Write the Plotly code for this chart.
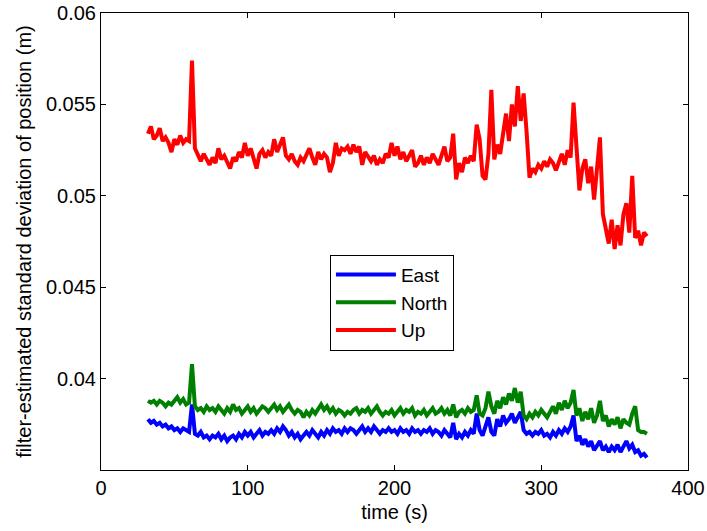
import plotly.graph_objects as go

# time samples (s)
time_s = list(range(32, 373, 2))

east = [
    0.0378, 0.0376, 0.0377, 0.0375, 0.0376, 0.0374, 0.0375, 0.0373, 0.0374, 0.0372,
    0.0373, 0.0371, 0.0373, 0.0372, 0.0371, 0.0386, 0.0370, 0.0369, 0.0371, 0.0368,
    0.0369, 0.0367, 0.0369, 0.0368, 0.0370, 0.0367, 0.0369, 0.0366, 0.0368, 0.0369,
    0.0367, 0.0370, 0.0368, 0.0371, 0.0369, 0.0371, 0.0368, 0.0370, 0.0372, 0.0369,
    0.0371, 0.0370, 0.0372, 0.0370, 0.0373, 0.0371, 0.0374, 0.0372, 0.0369, 0.0371,
    0.0368, 0.0370, 0.0367, 0.0369, 0.0371, 0.0369, 0.0372, 0.0370, 0.0368, 0.0371,
    0.0369, 0.0372, 0.0370, 0.0373, 0.0371, 0.0372, 0.0370, 0.0373, 0.0371, 0.0373,
    0.0372, 0.0370, 0.0372, 0.0374, 0.0371, 0.0373, 0.0371, 0.0374, 0.0372, 0.0370,
    0.0372, 0.0371, 0.0373, 0.0371, 0.0372, 0.0370, 0.0373, 0.0371, 0.0372, 0.0370,
    0.0373, 0.0371, 0.0372, 0.0370, 0.0372, 0.0371, 0.0373, 0.0370, 0.0372, 0.0371,
    0.0369, 0.0372, 0.0370, 0.0368, 0.0376, 0.0367, 0.0370, 0.0368, 0.0371, 0.0369,
    0.0372, 0.0370, 0.0381, 0.0372, 0.0369, 0.0374, 0.0379, 0.0371, 0.0369, 0.0378,
    0.0374, 0.0380, 0.0376, 0.0378, 0.0381, 0.0376, 0.0379, 0.0382, 0.0372, 0.0370,
    0.0371, 0.0369, 0.0371, 0.0370, 0.0372, 0.0369, 0.0370, 0.0368, 0.0371, 0.0369,
    0.0372, 0.0370, 0.0373, 0.0371, 0.0374, 0.0380, 0.0366, 0.0369, 0.0364, 0.0367,
    0.0363, 0.0366, 0.0361, 0.0364, 0.0366, 0.0361, 0.0363, 0.0360, 0.0363, 0.0361,
    0.0364, 0.0360, 0.0363, 0.0366, 0.0362, 0.0364, 0.0360, 0.0361, 0.0358, 0.0359,
    0.0357,
]

north = [
    0.0388, 0.0387, 0.0388, 0.0386, 0.0388, 0.0387, 0.0385, 0.0387, 0.0386, 0.0388,
    0.0390, 0.0387, 0.0389, 0.0386, 0.0387, 0.0408, 0.0385, 0.0383, 0.0384, 0.0382,
    0.0385, 0.0383, 0.0384, 0.0382, 0.0385, 0.0383, 0.0381, 0.0384, 0.0382, 0.0386,
    0.0383, 0.0384, 0.0381, 0.0383, 0.0385, 0.0382, 0.0384, 0.0381, 0.0383, 0.0385,
    0.0384, 0.0382, 0.0384, 0.0386, 0.0383, 0.0385, 0.0382, 0.0384, 0.0386, 0.0383,
    0.0381, 0.0383, 0.0382, 0.0379, 0.0382, 0.0380, 0.0383, 0.0381, 0.0384, 0.0386,
    0.0383, 0.0385, 0.0382, 0.0384, 0.0381, 0.0383, 0.0382, 0.0380, 0.0382, 0.0381,
    0.0383, 0.0384, 0.0381, 0.0383, 0.0382, 0.0384, 0.0381, 0.0383, 0.0385, 0.0382,
    0.0380, 0.0382, 0.0381, 0.0383, 0.0380, 0.0382, 0.0384, 0.0381, 0.0383, 0.0382,
    0.0384, 0.0380, 0.0382, 0.0381, 0.0383, 0.0380, 0.0382, 0.0384, 0.0381, 0.0382,
    0.0384, 0.0381, 0.0383, 0.0380, 0.0386, 0.0379, 0.0382, 0.0383, 0.0381, 0.0384,
    0.0382, 0.0383, 0.0391, 0.0381, 0.0380, 0.0384, 0.0393, 0.0385, 0.0381, 0.0388,
    0.0384, 0.0390, 0.0386, 0.0392, 0.0388, 0.0395, 0.0387, 0.0393, 0.0380, 0.0378,
    0.0381, 0.0379, 0.0382, 0.0380, 0.0383, 0.0381, 0.0379, 0.0382, 0.0385, 0.0381,
    0.0387, 0.0383, 0.0388, 0.0384, 0.0387, 0.0394, 0.0380, 0.0384, 0.0377, 0.0382,
    0.0378, 0.0384, 0.0376, 0.0380, 0.0388, 0.0377, 0.0380, 0.0374, 0.0378, 0.0375,
    0.0379, 0.0373, 0.0378, 0.0376, 0.0375, 0.0381, 0.0385, 0.0372, 0.0371, 0.0371,
    0.0370,
]

up = [
    0.0534, 0.0538, 0.0531, 0.0533, 0.0537, 0.0530, 0.0532, 0.0529, 0.0524, 0.0531,
    0.0528, 0.0533, 0.0529, 0.0531, 0.0530, 0.0574, 0.0526, 0.0522, 0.0519, 0.0523,
    0.0520, 0.0517, 0.0521, 0.0518, 0.0526, 0.0520, 0.0522, 0.0518, 0.0515, 0.0521,
    0.0519, 0.0524, 0.0521, 0.0529, 0.0522, 0.0526, 0.0520, 0.0515, 0.0523, 0.0525,
    0.0521, 0.0524, 0.0522, 0.0531, 0.0524, 0.0528, 0.0532, 0.0522, 0.0520, 0.0523,
    0.0519, 0.0517, 0.0521, 0.0519, 0.0522, 0.0526, 0.0521, 0.0517, 0.0524, 0.0520,
    0.0523, 0.0521, 0.0513, 0.0518, 0.0529, 0.0522, 0.0526, 0.0525, 0.0527, 0.0523,
    0.0528, 0.0524, 0.0527, 0.0517, 0.0524, 0.0521, 0.0519, 0.0522, 0.0517, 0.0520,
    0.0518, 0.0523, 0.0521, 0.0529, 0.0522, 0.0527, 0.0520, 0.0524, 0.0519, 0.0522,
    0.0525, 0.0516, 0.0518, 0.0522, 0.0517, 0.0521, 0.0518, 0.0523, 0.0520, 0.0517,
    0.0522, 0.0527, 0.0519, 0.0521, 0.0534, 0.0509, 0.0518, 0.0513, 0.0521, 0.0518,
    0.0522, 0.0519, 0.0539, 0.0531, 0.0511, 0.0509, 0.0523, 0.0558, 0.0520, 0.0528,
    0.0523, 0.0533, 0.0545, 0.0530, 0.0550, 0.0538, 0.0560, 0.0541, 0.0556, 0.0535,
    0.0510, 0.0515, 0.0513, 0.0517, 0.0515, 0.0519, 0.0516, 0.0520, 0.0518, 0.0514,
    0.0519, 0.0523, 0.0517, 0.0525, 0.0521, 0.0551, 0.0527, 0.0503, 0.0515, 0.0520,
    0.0507, 0.0516, 0.0498, 0.0514, 0.0532, 0.0490, 0.0482, 0.0474, 0.0487, 0.0471,
    0.0484, 0.0473, 0.0490, 0.0496, 0.0480, 0.0511, 0.0477, 0.0481, 0.0473, 0.0480,
    0.0478,
]

series_names = ["East", "North", "Up"]
series_colors = ["#0000FF", "#008000", "#FF0000"]

x_ticks = [0, 100, 200, 300, 400]
y_ticks = [0.04, 0.045, 0.05, 0.055, 0.06]
y_tick_labels = ["0.04", "0.045", "0.05", "0.055", "0.06"]

FONT = "Liberation Sans, Arial, Helvetica, sans-serif"

fig = go.Figure()
for name, color, vals in zip(series_names, series_colors, [east, north, up]):
    fig.add_trace(go.Scatter(x=time_s, y=vals, mode="lines", name=name,
                             line=dict(color=color, width=4)))

axis_common = dict(showline=True, linecolor="black", linewidth=1, mirror="ticks",
                   ticks="inside", ticklen=5, tickcolor="black", showgrid=False,
                   zeroline=False, tickfont=dict(size=20, color="black", family=FONT))

fig.update_xaxes(range=[0, 400], tickvals=x_ticks,
                 title=dict(text="time (s)", font=dict(size=20, color="black", family=FONT), standoff=6),
                 **axis_common)
fig.update_yaxes(range=[0.03502, 0.06], tickvals=y_ticks, ticktext=y_tick_labels,
                 title=dict(text="filter-estimated standard deviation of position (m)",
                            font=dict(size=20, color="black", family=FONT), standoff=8),
                 **axis_common)

fig.update_layout(
    width=707, height=531,
    margin=dict(l=101, r=19, t=13, b=61, autoexpand=False),
    paper_bgcolor="white", plot_bgcolor="white",
    font=dict(family=FONT, color="black"),
    legend=dict(x=0.39, y=0.471, xanchor="left", yanchor="top",
                bgcolor="white", bordercolor="black", borderwidth=1,
                font=dict(size=19, color="black", family=FONT),
                tracegroupgap=0, itemwidth=60),
    showlegend=True,
)

fig.write_html("out.html")
